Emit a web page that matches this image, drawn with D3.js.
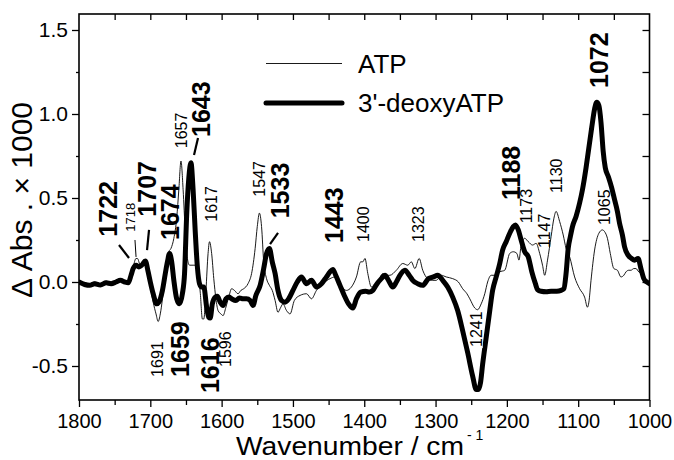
<!DOCTYPE html>
<html><head><meta charset="utf-8">
<script src="https://cdn.jsdelivr.net/npm/d3@7"></script>
<style>
html,body{margin:0;padding:0;background:#fff;}
svg{display:block;font-family:"Liberation Sans",Arial,Helvetica,sans-serif;}
</style></head>
<body><svg id="chart" width="674" height="460"></svg>
<script>
// ---- data ----
const seriesNames = ["ATP", "3'-deoxyATP"];
const xTicks = [1800,1700,1600,1500,1400,1300,1200,1100,1000];
const yTicks = [-0.5,0.0,0.5,1.0,1.5];

const atpWn = [1800,1792,1785,1778,1770,1762,1755,1748,1742,1736,1731,1727,1724,1720,1718,1714,1710,1707,1703,1700,1696,1692,1689,1686,1683,1680,1677,1674,1671,1667,1663,1660,1657,1654,1651,1648,1645,1640,1636,1633,1630,1627,1625,1622,1619,1617,1614,1611,1608,1605,1601,1598,1594,1590,1586,1582,1577,1573,1569,1563,1558,1553,1550,1547,1544,1541,1537,1533,1529,1525,1521,1517,1514,1509,1504,1498,1490,1481,1474,1467,1458,1448,1441,1432,1425,1418,1411,1405,1402,1399,1395,1390,1385,1381,1374,1368,1364,1355,1346,1339,1334,1329,1323,1318,1311,1304,1299,1292,1285,1276,1268,1262,1256,1252,1245,1241,1236,1231,1227,1222,1215,1210,1203,1196,1191,1186,1183,1180,1175,1170,1164,1159,1154,1150,1147,1143,1138,1134,1131,1126,1121,1117,1112,1105,1098,1091,1087,1085,1082,1077,1071,1066,1063,1059,1055,1050,1045,1040,1036,1033,1029,1026,1022,1019,1015,1012,1008,1005,1000];
const atpVal = [0.005,-0.005,-0.01,0.0,-0.01,0.005,0.0,0.01,0.02,0.01,0.0,0.04,0.09,0.14,0.14,0.10,0.10,0.11,0.05,-0.03,-0.12,-0.19,-0.235,-0.19,-0.10,0.02,0.12,0.18,0.20,0.26,0.38,0.55,0.72,0.55,0.30,0.14,0.10,0.10,0.10,0.05,-0.06,-0.22,-0.22,-0.05,0.17,0.24,0.17,0.02,-0.10,-0.17,-0.19,-0.20,-0.15,-0.09,-0.04,-0.05,-0.07,-0.05,-0.04,-0.01,0.05,0.20,0.33,0.41,0.33,0.12,0.02,-0.02,-0.05,-0.11,-0.18,-0.15,-0.13,-0.17,-0.19,-0.11,-0.08,-0.07,-0.10,-0.05,-0.01,0.02,0.03,-0.03,-0.05,-0.03,0.03,0.12,0.12,0.14,0.05,-0.03,-0.01,0.0,0.05,0.04,0.04,0.07,0.11,0.10,0.12,0.08,0.14,0.07,0.02,0.01,0.01,0.04,0.03,0.02,0.0,-0.04,-0.07,-0.10,-0.155,-0.165,-0.13,-0.07,0.0,0.04,0.04,0.06,0.07,0.17,0.18,0.17,0.13,0.22,0.26,0.24,0.22,0.23,0.17,0.10,0.04,0.13,0.27,0.38,0.42,0.36,0.28,0.20,0.15,0.03,-0.04,-0.09,-0.15,-0.12,0.01,0.19,0.29,0.31,0.30,0.26,0.17,0.08,0.07,0.03,0.04,0.06,0.07,0.07,0.08,0.08,0.06,0.05,0.02,0.01,0.0];

const deoxyWn = [1800,1792,1785,1778,1770,1762,1755,1748,1742,1736,1731,1727,1724,1720,1716,1712,1707,1703,1700,1696,1691,1688,1683,1679,1676,1673,1670,1667,1663,1659,1655,1652,1649,1646,1643,1640,1637,1634,1631,1628,1625,1621,1618,1616,1613,1609,1606,1602,1598,1594,1590,1586,1580,1575,1570,1565,1560,1556,1552,1546,1541,1537,1533,1529,1525,1521,1516,1511,1506,1500,1494,1488,1481,1474,1467,1460,1453,1448,1444,1440,1434,1428,1422,1416,1411,1405,1398,1393,1388,1382,1376,1371,1366,1360,1355,1350,1343,1337,1332,1325,1318,1310,1303,1297,1290,1283,1276,1269,1262,1255,1248,1243,1240,1237,1234,1229,1224,1220,1215,1210,1206,1201,1196,1191,1188,1184,1180,1175,1170,1165,1160,1157,1152,1145,1138,1130,1124,1120,1117,1114,1111,1108,1103,1098,1094,1089,1085,1081,1077,1074,1071,1068,1065,1062,1058,1053,1049,1045,1042,1038,1035,1030,1025,1021,1016,1012,1008,1004,1000];
const deoxyVal = [0.0,-0.015,-0.02,-0.01,-0.018,-0.005,-0.01,0.0,0.01,0.0,-0.005,0.04,0.08,0.10,0.09,0.10,0.125,0.06,0.0,-0.07,-0.13,-0.12,-0.05,0.05,0.12,0.17,0.12,0.01,-0.10,-0.13,-0.07,0.05,0.40,0.62,0.71,0.55,0.30,0.09,-0.01,-0.03,-0.03,-0.15,-0.21,-0.215,-0.13,-0.09,-0.085,-0.12,-0.14,-0.10,-0.09,-0.10,-0.11,-0.095,-0.10,-0.10,-0.11,-0.14,-0.08,-0.02,0.08,0.17,0.20,0.12,0.05,-0.05,-0.11,-0.12,-0.10,-0.05,0.0,0.03,-0.01,0.01,-0.03,-0.01,0.03,0.06,0.075,0.04,-0.02,-0.08,-0.13,-0.155,-0.10,-0.06,-0.055,-0.06,-0.05,-0.01,0.02,0.04,0.01,-0.03,0.0,0.04,0.07,0.04,0.01,-0.01,-0.02,0.02,0.03,0.04,0.01,-0.03,-0.09,-0.17,-0.29,-0.42,-0.56,-0.64,-0.64,-0.60,-0.49,-0.33,-0.17,-0.05,0.03,0.11,0.19,0.24,0.29,0.33,0.34,0.31,0.25,0.18,0.15,0.06,-0.01,-0.045,-0.055,-0.058,-0.055,-0.055,-0.05,-0.04,0.05,0.20,0.27,0.33,0.39,0.47,0.55,0.68,0.80,0.92,1.03,1.07,1.05,0.95,0.78,0.68,0.63,0.56,0.49,0.42,0.35,0.28,0.21,0.16,0.14,0.13,0.14,0.08,0.02,0.0,-0.01];

// peak annotations: text, anchor wavenumber, anchor value, emphasis (1 = deoxyATP bold)
const peakText = ["1722","1707","1674","1643","1533","1443","1188","1072","1659","1616","1718","1657","1617","1547","1400","1323","1173","1147","1130","1065","1691","1596","1241"];
const peakWn   = [1760,1705,1672.4,1628.9,1518.1,1442.3,1194.1,1071.3,1658.3,1616.3,1728.5,1656.9,1613.9,1547.5,1401.6,1324.5,1173,1147.8,1130.9,1063.6,1689.9,1595.2,1242.4];
const peakVal  = [0.270,0.389,0.25,0.863,0.379,0.232,0.488,1.155,-0.565,-0.661,0.299,0.796,0.359,0.508,0.238,0.238,0.349,0.202,0.530,0.339,-0.565,-0.506,-0.387];
const peakBold = [1,1,1,1,1,1,1,1,1,1,0,0,0,0,0,0,0,0,0,0,0,0,0];

// leader lines: wavenumber/value pairs
const leadW1 = [1743.9,1721.5,1701.8,1633.1,1520.9];
const leadV1 = [0.220,0.250,0.310,0.857,0.292];
const leadW2 = [1729.9,1720.0,1704.6,1638.7,1532.1];
const leadV2 = [0.143,0.149,0.190,0.756,0.226];

// ---- drawing ----
const svg = d3.select("#chart");
const L = 79, R = 649.5, T = 14, B = 400;
const x = d3.scaleLinear().domain([1800,1000]).range([L,R]);
const y = d3.scaleLinear().domain([-0.7024,1.5952]).range([B,T]);

svg.append("defs").append("clipPath").attr("id","clip")
  .append("rect").attr("x",L).attr("y",T).attr("width",R-L).attr("height",B-T);

const fmtY = v => d3.format(".1f")(v).replace("\u2212","-");

// bottom axis
const gB = svg.append("g").attr("transform",`translate(0,${B})`)
  .call(d3.axisBottom(x).tickValues(xTicks).tickSize(7).tickPadding(5).tickFormat(d3.format("d")));
svg.append("g").attr("transform",`translate(0,${B})`)
  .call(d3.axisBottom(x).tickValues(d3.range(1750,1000,-100)).tickSize(5).tickFormat(""));
// top axis (inward)
svg.append("g").attr("transform",`translate(0,${T})`)
  .call(d3.axisTop(x).tickValues(d3.range(1750,1000,-50)).tickSize(-6).tickFormat(""));
// left axis
const gL = svg.append("g").attr("transform",`translate(${L},0)`)
  .call(d3.axisLeft(y).tickValues(yTicks).tickSize(7).tickPadding(4).tickFormat(fmtY));
svg.append("g").attr("transform",`translate(${L},0)`)
  .call(d3.axisLeft(y).tickValues([-0.25,0.25,0.75,1.25]).tickSize(3).tickFormat(""));
// right axis (inward)
svg.append("g").attr("transform",`translate(${R},0)`)
  .call(d3.axisRight(y).tickValues([-0.5,-0.25,0,0.25,0.5,0.75,1.0,1.25,1.5]).tickSize(-7).tickFormat(""));

svg.selectAll(".domain").remove();
svg.selectAll(".tick line").attr("stroke","#000").attr("stroke-width",1.3);
gB.selectAll(".tick text").attr("font-size",20).attr("fill","#000")
  .attr("font-family","'Liberation Sans',Arial,sans-serif").attr("dy","0.78em");
gL.selectAll(".tick text").attr("font-size",21).attr("fill","#000")
  .attr("font-family","'Liberation Sans',Arial,sans-serif");

// frame
svg.append("rect").attr("x",L).attr("y",T).attr("width",R-L).attr("height",B-T)
  .attr("fill","none").attr("stroke","#000").attr("stroke-width",1.6);

const line = d3.line().x(d=>x(d[0])).y(d=>y(d[1])).curve(d3.curveMonotoneX);
const atpData = atpWn.map((w,i)=>[w,atpVal[i]]);
const deoxyData = deoxyWn.map((w,i)=>[w,deoxyVal[i]]);

const plot = svg.append("g").attr("clip-path","url(#clip)");
plot.append("path").datum(atpData).attr("d",line)
  .attr("fill","none").attr("stroke","#000").attr("stroke-width",0.9).attr("stroke-linejoin","round");
plot.append("path").datum(deoxyData).attr("d",line)
  .attr("fill","none").attr("stroke","#000").attr("stroke-width",5).attr("stroke-linejoin","round").attr("stroke-linecap","round");

// leader lines
leadW1.forEach((w,i)=>{
  svg.append("line").attr("x1",x(w)).attr("y1",y(leadV1[i])).attr("x2",x(leadW2[i])).attr("y2",y(leadV2[i]))
    .attr("stroke","#000").attr("stroke-width", i===1?1:2.2);
});

// peak labels
peakText.forEach((t,i)=>{
  const px = x(peakWn[i]), py = y(peakVal[i]);
  const big = peakBold[i]===1;
  const fs = big ? 25 : (t==="1718" ? 13 : 16);
  const g = svg.append("g").attr("transform",`translate(${px},${py}) rotate(-90)`);
  if (t==="1241") {
    g.append("rect").attr("x",-1).attr("y",-7).attr("width",36).attr("height",13).attr("fill","#fff");
  }
  g.append("text").attr("x",0).attr("y",0).attr("dy","0.36em")
    .attr("font-size",fs).attr("font-weight", big ? "bold" : "normal").attr("fill","#000").text(t);
});

// legend
svg.append("line").attr("x1",266).attr("x2",342).attr("y1",63.5).attr("y2",63.5).attr("stroke","#000").attr("stroke-width",0.9);
svg.append("text").attr("x",358).attr("y",73).attr("font-size",26).text(seriesNames[0]);
svg.append("line").attr("x1",266).attr("x2",342).attr("y1",103).attr("y2",103).attr("stroke","#000").attr("stroke-width",5).attr("stroke-linecap","round");
svg.append("text").attr("x",358).attr("y",112).attr("font-size",26).text(seriesNames[1]);

// axis titles
svg.append("text").attr("x",236).attr("y",454.5).attr("font-size",25.5)
  .attr("textLength",228).attr("lengthAdjust","spacingAndGlyphs").text("Wavenumber / cm");
svg.append("text").attr("x",467).attr("y",440).attr("font-size",14).text("- 1");

svg.append("text").attr("transform","translate(32,200) rotate(-90)").attr("text-anchor","middle")
  .attr("font-size",30).text("\u0394 Abs . \u00d7 1000");
</script></body></html>
